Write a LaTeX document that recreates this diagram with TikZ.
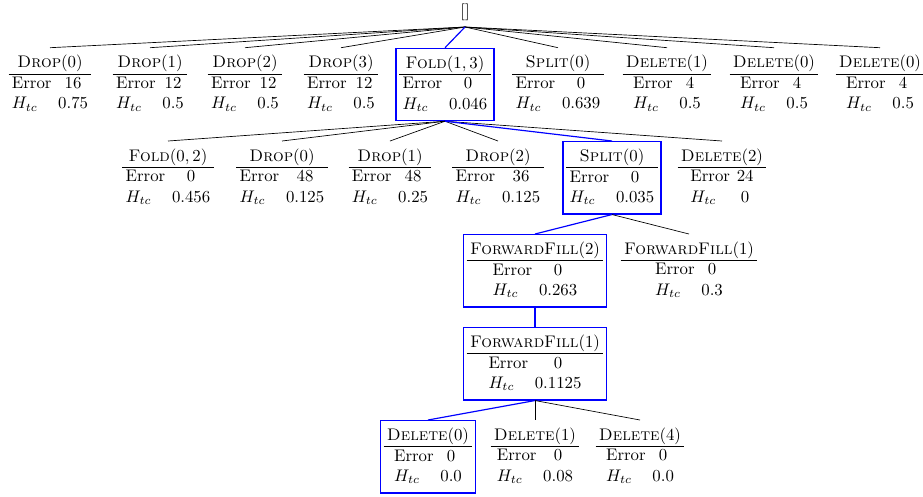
\documentclass[tikz,border=0pt]{standalone}
\usepackage{array}
\definecolor{pathblue}{RGB}{0,0,255}
% one search state: operation name, error, entropy
\newcommand{\opcell}[3]{%
  \setlength{\tabcolsep}{2pt}%
  \begin{tabular}{c}
    #1\\\hline
    \begin{tabular}{@{}l@{\hspace{4pt}}c@{}}
      Error & #2\\
      $H_{tc}$ & #3
    \end{tabular}
  \end{tabular}}
\begin{document}
\begin{tikzpicture}[x=0.5952pt,y=-0.5952pt,
  op/.style={anchor=north,inner xsep=2pt,inner ysep=0.3333em},
  pick/.style={op,draw=pathblue,line width=0.7pt},
  plain/.style={draw=black},
  chosen/.style={draw=pathblue,line width=0.7pt}]
\useasboundingbox (0,0) rectangle (923,496);

% root
\node[anchor=south] (r) at (465,27) {[]};

% first level
\node[op]   (a1) at (50,47.7)  {\opcell{\textsc{Drop}$(0)$}{16}{0.75}};
\node[op]   (a2) at (150,47.7) {\opcell{\textsc{Drop}$(1)$}{12}{0.5}};
\node[op]   (a3) at (245,47.7) {\opcell{\textsc{Drop}$(2)$}{12}{0.5}};
\node[op]   (a4) at (341,47.7) {\opcell{\textsc{Drop}$(3)$}{12}{0.5}};
\node[pick] (a5) at (445,47.7) {\opcell{\textsc{Fold}$(1,3)$}{0}{0.046}};
\node[op]   (a6) at (558,47.7) {\opcell{\textsc{Split}$(0)$}{0}{0.639}};
\node[op]   (a7) at (667,47.7) {\opcell{\textsc{Delete}$(1)$}{4}{0.5}};
\node[op]   (a8) at (774,47.7) {\opcell{\textsc{Delete}$(0)$}{4}{0.5}};
\node[op]   (a9) at (880,47.7) {\opcell{\textsc{Delete}$(0)$}{4}{0.5}};

% second level
\node[op]   (b1) at (168,141) {\opcell{\textsc{Fold}$(0,2)$}{0}{0.456}};
\node[op]   (b2) at (282,141) {\opcell{\textsc{Drop}$(0)$}{48}{0.125}};
\node[op]   (b3) at (390,141) {\opcell{\textsc{Drop}$(1)$}{48}{0.25}};
\node[op]   (b4) at (498,141) {\opcell{\textsc{Drop}$(2)$}{36}{0.125}};
\node[pick] (b5) at (612,141) {\opcell{\textsc{Split}$(0)$}{0}{0.035}};
\node[op]   (b6) at (722,141) {\opcell{\textsc{Delete}$(2)$}{24}{0}};

% third level
\node[pick] (c1) at (535,234) {\opcell{\textsc{ForwardFill}$(2)$}{0}{0.263}};
\node[op]   (c2) at (689,234) {\opcell{\textsc{ForwardFill}$(1)$}{0}{0.3}};

% fourth level
\node[pick] (d1) at (535,327) {\opcell{\textsc{ForwardFill}$(1)$}{0}{0.1125}};

% fifth level
\node[pick] (e1) at (428,420) {\opcell{\textsc{Delete}$(0)$}{0}{0.0}};
\node[op]   (e2) at (535,420) {\opcell{\textsc{Delete}$(1)$}{0}{0.08}};
\node[op]   (e3) at (640,420) {\opcell{\textsc{Delete}$(4)$}{0}{0.0}};

% connectors
\foreach \n in {a1,a2,a3,a4,a6,a7,a8,a9}
  \draw[plain] (r.south) -- (\n.north);
\draw[chosen] (r.south) -- (a5.north);
\foreach \n in {b1,b2,b3,b4,b6}
  \draw[plain] (a5.south) -- (\n.north);
\draw[chosen] (a5.south) -- (b5.north);
\draw[chosen] (b5.south) -- (c1.north);
\draw[plain]  (b5.south) -- (c2.north);
\draw[chosen] (c1.south) -- (d1.north);
\draw[chosen] (d1.south) -- (e1.north);
\draw[plain]  (d1.south) -- (e2.north);
\draw[plain]  (d1.south) -- (e3.north);
\end{tikzpicture}
\end{document}
